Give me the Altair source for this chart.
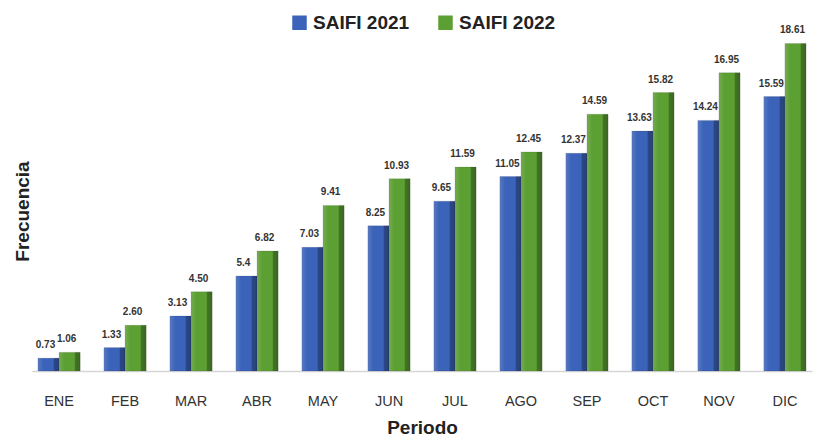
import altair as alt
import pandas as pd

months = ["ENE", "FEB", "MAR", "ABR", "MAY", "JUN", "JUL", "AGO", "SEP", "OCT", "NOV", "DIC"]
saifi_2021 = [0.73, 1.33, 3.13, 5.4, 7.03, 8.25, 9.65, 11.05, 12.37, 13.63, 14.24, 15.59]
saifi_2022 = [1.06, 2.60, 4.50, 6.82, 9.41, 10.93, 11.59, 12.45, 14.59, 15.82, 16.95, 18.61]
labels_2021 = ["0.73", "1.33", "3.13", "5.4", "7.03", "8.25", "9.65", "11.05", "12.37", "13.63", "14.24", "15.59"]
labels_2022 = ["1.06", "2.60", "4.50", "6.82", "9.41", "10.93", "11.59", "12.45", "14.59", "15.82", "16.95", "18.61"]
series = ["SAIFI 2021", "SAIFI 2022"]

rows = []
for m, v, l in zip(months, saifi_2021, labels_2021):
    rows.append({"Periodo": m, "Serie": series[0], "Valor": v, "Etiqueta": l})
for m, v, l in zip(months, saifi_2022, labels_2022):
    rows.append({"Periodo": m, "Serie": series[1], "Valor": v, "Etiqueta": l})
df = pd.DataFrame(rows)

x_enc = alt.X("Periodo:N", sort=months,
              scale=alt.Scale(paddingInner=0.36, paddingOuter=0.09),
              axis=alt.Axis(title="Periodo", labelAngle=0, ticks=False,
                            labelPadding=23, labelFontSize=14.5, labelColor="#333333",
                            labelFont="Liberation Sans", domainColor="#d6d6d6",
                            domainWidth=1.5, titleFontSize=19, titleFontWeight="bold",
                            titleFont="Liberation Sans", titleColor="#222222",
                            titlePadding=11))
y_enc = alt.Y("Valor:Q", scale=alt.Scale(domain=[0, 20], nice=False),
              axis=alt.Axis(title="Frecuencia", labels=False, ticks=False, domain=False,
                            grid=False, titleFontSize=19, titleFontWeight="bold",
                            titleFont="Liberation Sans", titleColor="#222222",
                            titlePadding=0, titleY=192))
xo = alt.XOffset("Serie:N", sort=series)

bars = alt.Chart(df).mark_bar(stroke="#2a2a2a", strokeOpacity=0.25, strokeWidth=0.5).encode(
    x=x_enc, y=y_enc, xOffset=xo,
    color=alt.Color("Serie:N", sort=series,
                    scale=alt.Scale(domain=series, range=["#3b63b9", "#5c9f33"]),
                    legend=alt.Legend(title=None, orient="none", legendX=258, legendY=-6,
                                      direction="horizontal", symbolType="square",
                                      symbolSize=210, symbolStrokeWidth=0,
                                      labelFontSize=19, labelFontWeight="bold",
                                      labelFont="Liberation Sans", labelColor="#222222",
                                      columnPadding=26, labelOffset=4)),
)

shade = alt.Chart(df).mark_bar(
    fill=alt.Gradient(gradient="linear", x1=0, x2=1, y1=0, y2=0,
                      stops=[alt.GradientStop(offset=0, color="rgba(255,255,255,0.15)"),
                             alt.GradientStop(offset=0.25, color="rgba(255,255,255,0.0)"),
                             alt.GradientStop(offset=0.72, color="rgba(0,0,0,0.0)"),
                             alt.GradientStop(offset=0.78, color="rgba(0,0,0,0.28)"),
                             alt.GradientStop(offset=1, color="rgba(0,0,0,0.35)")])
).encode(x=x_enc, y=y_enc, xOffset=xo)

text = alt.Chart(df).mark_text(baseline="bottom", dy=-8, dx=-3, fontSize=10,
                               fontWeight="bold", font="Liberation Sans",
                               color="#333333").encode(
    x=x_enc, y=y_enc, xOffset=xo, text="Etiqueta:N")

chart = alt.layer(bars, shade, text).properties(
    width=780, height=352,
    autosize=alt.AutoSizeParams(type="none"),
    padding={"left": 24, "top": 11, "right": 3, "bottom": 67},
).configure_view(stroke=None)

chart.save("out.html", embed_options={"renderer": "svg", "actions": False})
